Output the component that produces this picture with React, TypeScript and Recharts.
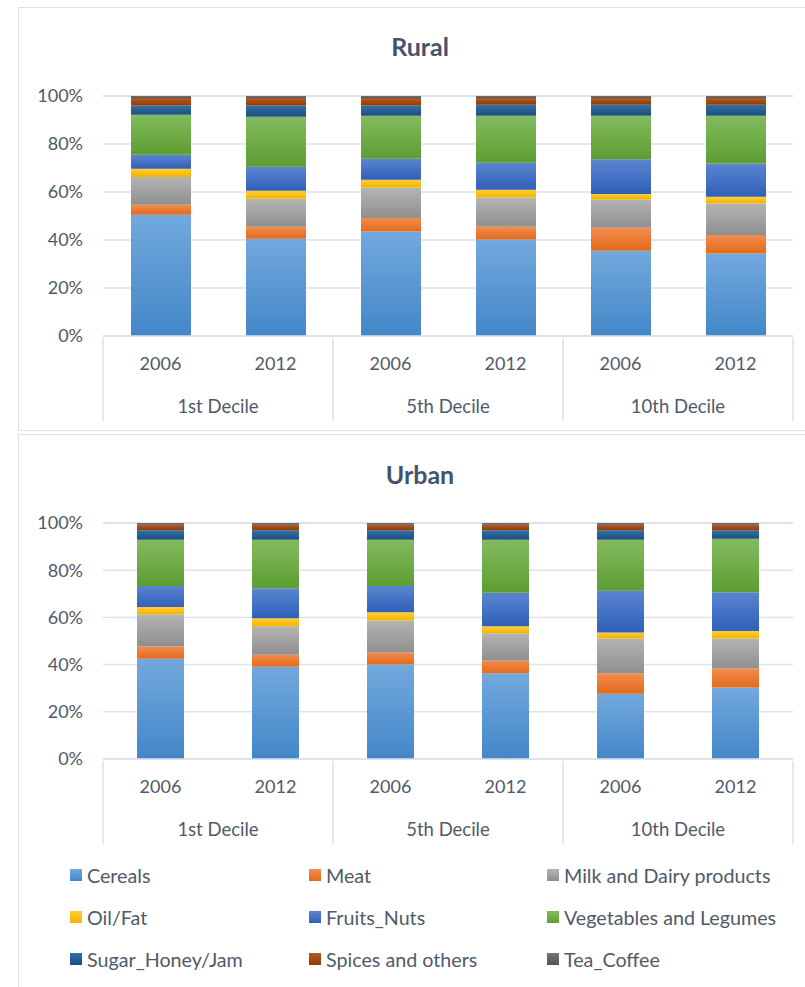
import { BarChart, Bar, XAxis, YAxis, CartesianGrid } from "recharts";

// categories and tick labels
const deciles = ["1st Decile", "5th Decile", "10th Decile"];
const years = ["2006", "2012", "2006", "2012", "2006", "2012"];
const yTicks = [0, 20, 40, 60, 80, 100];

// series (share of food expenditure, %)
const seriesNames = [
  "Cereals",
  "Meat",
  "Milk and Dairy products",
  "Oil/Fat",
  "Fruits_Nuts",
  "Vegetables and Legumes",
  "Sugar_Honey/Jam",
  "Spices and others",
  "Tea_Coffee",
];

const ruralCereals = [50.5, 40.5, 43.5, 40.2, 35.5, 34.4];
const ruralMeat = [4.2, 5.0, 5.7, 5.3, 9.6, 7.7];
const ruralMilk = [11.6, 11.7, 12.7, 12.2, 11.8, 13.1];
const ruralOil = [3.4, 3.3, 3.2, 3.2, 2.3, 2.8];
const ruralFruits = [5.8, 10.0, 8.8, 11.3, 14.4, 13.9];
const ruralVeg = [16.7, 20.9, 17.9, 19.6, 18.2, 19.9];
const ruralSugar = [3.8, 4.6, 4.2, 4.6, 4.6, 4.6];
const ruralSpices = [3.2, 3.2, 3.2, 2.8, 2.8, 2.8];
const ruralTea = [0.8, 0.8, 0.8, 0.8, 0.8, 0.8];

const urbanCereals = [42.5, 39.1, 40.0, 36.3, 27.7, 30.3];
const urbanMeat = [5.2, 5.1, 5.1, 5.4, 8.6, 8.0];
const urbanMilk = [13.6, 12.0, 13.6, 11.6, 14.8, 12.8];
const urbanOil = [3.1, 3.4, 3.5, 2.9, 2.5, 3.1];
const urbanFruits = [8.9, 12.8, 11.1, 14.2, 17.7, 16.5];
const urbanVeg = [19.6, 20.5, 19.6, 22.5, 21.6, 22.6];
const urbanSugar = [4.0, 4.0, 4.0, 4.0, 4.0, 3.6];
const urbanSpices = [2.4, 2.4, 2.4, 2.4, 2.4, 2.4];
const urbanTea = [0.7, 0.7, 0.7, 0.7, 0.7, 0.7];

const ruralSeries = [ruralCereals, ruralMeat, ruralMilk, ruralOil, ruralFruits, ruralVeg, ruralSugar, ruralSpices, ruralTea];
const urbanSeries = [urbanCereals, urbanMeat, urbanMilk, urbanOil, urbanFruits, urbanVeg, urbanSugar, urbanSpices, urbanTea];

// [base, top, bottom] for the Excel-style gradient fill
const palette = [
  ["#5B9BD5", "#72A9DD", "#4387C8"],
  ["#ED7D31", "#F38C4D", "#E26B1C"],
  ["#A5A5A5", "#B4B4B4", "#8F8F8F"],
  ["#FFC000", "#FFCC33", "#F2B500"],
  ["#4472C4", "#5A85D0", "#2F5FB8"],
  ["#70AD47", "#83BB5E", "#5D9D32"],
  ["#255E91", "#336FA6", "#1C4F80"],
  ["#9E480E", "#B45C24", "#8C3B07"],
  ["#636363", "#767676", "#525252"],
];

const FONT = "Lato, 'Open Sans', sans-serif";
const TEXT = "#4f5a6a";
const GRID = "#dde1e8";
const CHART_W = 787;
const MARGIN_R = 12;
const Y_W = 85;
const BAND = (CHART_W - MARGIN_R - Y_W) / years.length;

function buildRows(series: number[][]) {
  return years.map((year, i) => {
    const row: Record<string, string | number> = { id: `${deciles[Math.floor(i / 2)]}-${year}`, year };
    seriesNames.forEach((name, s) => {
      row[name] = series[s][i];
    });
    return row;
  });
}

function XTick(props: any) {
  const { x, y, index } = props;
  const i = index ?? props.payload?.index ?? 0;
  return (
    <g>
      <text x={x} y={y + 27} textAnchor="middle" dominantBaseline="middle" fontSize={18} fill={TEXT} fontFamily={FONT}>
        {years[i]}
      </text>
      {i % 2 === 0 && (
        <>
          <text x={x + BAND / 2} y={y + 70} textAnchor="middle" dominantBaseline="middle" fontSize={18.5} fill={TEXT} fontFamily={FONT}>
            {deciles[i / 2]}
          </text>
          <line x1={x - BAND / 2} x2={x - BAND / 2} y1={y} y2={y + 83} stroke={GRID} strokeWidth={1.5} />
        </>
      )}
      {i === years.length - 1 && <line x1={x + BAND / 2} x2={x + BAND / 2} y1={y} y2={y + 83} stroke={GRID} strokeWidth={1.5} />}
    </g>
  );
}

type PanelProps = {
  prefix: string;
  series: number[][];
  height: number;
  top: number;
  barSize: number;
};

function Panel({ prefix, series, height, top, barSize }: PanelProps) {
  const rows = buildRows(series);
  return (
    <BarChart
      width={CHART_W}
      height={height}
      data={rows}
      margin={{ top, right: MARGIN_R, left: 0, bottom: 0 }}
      barSize={barSize}
    >
      <defs>
        {palette.map((c, s) => (
          <linearGradient key={s} id={`${prefix}-g${s}`} x1="0" y1="0" x2="0" y2="1">
            <stop offset="0%" stopColor={c[1]} />
            <stop offset="100%" stopColor={c[2]} />
          </linearGradient>
        ))}
      </defs>
      <CartesianGrid vertical={false} stroke={GRID} strokeWidth={1.5} />
      <XAxis
        dataKey="id"
        interval={0}
        height={94}
        tickLine={false}
        tickSize={0}
        axisLine={{ stroke: GRID, strokeWidth: 1.5 }}
        tick={(p: any) => <XTick {...p} />}
      />
      <YAxis
        width={Y_W}
        domain={[0, 100]}
        ticks={yTicks}
        tickFormatter={(v) => `${v}%`}
        axisLine={false}
        tickLine={false}
        tickSize={0}
        tickMargin={20}
        tick={{ fontSize: 18, fill: TEXT, fontFamily: FONT }}
      />
      {seriesNames.map((name, s) => (
        <Bar key={name} dataKey={name} stackId="a" fill={`url(#${prefix}-g${s})`} isAnimationActive={false} />
      ))}
    </BarChart>
  );
}

const boxStyle = {
  position: "absolute" as const,
  left: 18,
  width: 800,
  border: "1.5px solid #dcdfe4",
  boxSizing: "border-box" as const,
};

const titleStyle = {
  position: "absolute" as const,
  left: 0,
  width: 805,
  paddingLeft: 35,
  boxSizing: "border-box" as const,
  textAlign: "center" as const,
  fontFamily: FONT,
  fontWeight: 700,
  fontSize: 25,
  color: "#44546a",
};

export default function App() {
  return (
    <div style={{ position: "absolute", left: 0, top: 0, width: 805, height: 987, overflow: "hidden", background: "#fff", fontFamily: FONT }}>
      <div style={{ ...boxStyle, top: 7, height: 424 }} />
      <div style={{ ...boxStyle, top: 434, height: 600 }} />

      <div style={{ ...titleStyle, top: 31 }}>Rural</div>
      <div style={{ position: "absolute", left: 18, top: 7 }}>
        <Panel prefix="rural" series={ruralSeries} height={423} top={89} barSize={60} />
      </div>

      <div style={{ ...titleStyle, top: 459 }}>Urban</div>
      <div style={{ position: "absolute", left: 18, top: 433 }}>
        <Panel prefix="urban" series={urbanSeries} height={420} top={90} barSize={47} />
      </div>

      {seriesNames.map((name, s) => {
        const col = s % 3;
        const row = Math.floor(s / 3);
        const left = [70, 309, 547][col];
        return (
          <div
            key={name}
            style={{
              position: "absolute",
              left,
              top: 875 + row * 42 - 12,
              height: 24,
              display: "flex",
              alignItems: "center",
              fontSize: 19.7,
              color: TEXT,
              whiteSpace: "nowrap",
            }}
          >
            <span
              style={{
                display: "inline-block",
                width: 12,
                height: 12,
                marginRight: 5,
                background: `linear-gradient(${palette[s][1]}, ${palette[s][2]})`,
              }}
            />
            {name}
          </div>
        );
      })}
    </div>
  );
}
